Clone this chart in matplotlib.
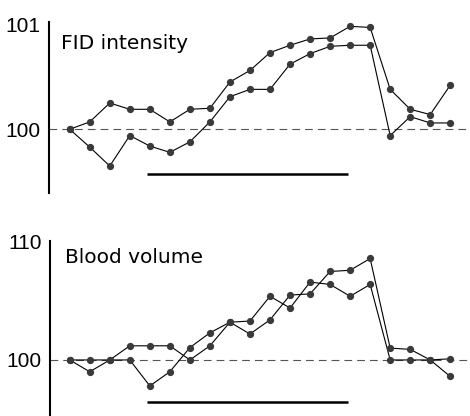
import numpy as np
import matplotlib
matplotlib.use("Agg")
import matplotlib.pyplot as plt

tiempo = np.arange(20)

fid_a = [100.0, 100.07, 100.25, 100.19, 100.19, 100.07, 100.19, 100.2, 100.45, 100.56,
         100.73, 100.8, 100.86, 100.87, 100.98, 100.97, 100.38, 100.19, 100.14, 100.42]
fid_b = [100.0, 99.83, 99.65, 99.94, 99.84, 99.78, 99.88, 100.07, 100.31, 100.38,
         100.38, 100.62, 100.72, 100.79, 100.8, 100.8, 99.94, 100.12, 100.06, 100.06]

blood_a = [100.0, 100.0, 100.0, 101.2, 101.2, 101.2, 100.0, 101.2, 103.2, 103.3,
           105.4, 104.4, 106.6, 106.4, 105.4, 106.4, 100.0, 100.0, 100.0, 100.1]
blood_b = [100.0, 99.0, 100.0, 100.0, 97.8, 99.0, 101.05, 102.3, 103.2, 102.2,
           103.4, 105.5, 105.6, 107.5, 107.6, 108.6, 101.0, 100.9, 100.0, 98.6]

# Periodo de estimulación (barra horizontal)
estimulo = [3.85, 13.9]

paneles = [
    {"titulo": "FID intensity", "a": fid_a, "b": fid_b, "ticks": [100, 101],
     "ylim": (99.231, 101.231), "spine": (99.39, 101.02), "barra": 99.575,
     "texto_y": 100.76, "texto_x": -0.43, "spine_x": -1.03},
    {"titulo": "Blood volume", "a": blood_a, "b": blood_b, "ticks": [100, 110],
     "ylim": (95.25, 112.71), "spine": (95.25, 110.1), "barra": 96.4,
     "texto_y": 108.19, "texto_x": -0.23, "spine_x": -0.98},
]

fig = plt.figure(figsize=(4.7, 4.16), dpi=100)
posiciones = [[0, 1 - 210 / 416, 1, 210 / 416], [0, 0, 1, 206 / 416]]

for p, pos in zip(paneles, posiciones):
    ax = fig.add_axes(pos)
    ax.set_xlim(-3.48, 19.985)
    ax.set_ylim(*p["ylim"])
    ax.patch.set_alpha(0)

    for s in ["top", "right", "bottom"]:
        ax.spines[s].set_visible(False)
    ax.spines["left"].set_position(("data", p["spine_x"]))
    ax.spines["left"].set_bounds(*p["spine"])
    ax.spines["left"].set_linewidth(1.5)
    ax.set_xticks([])
    ax.set_yticks(p["ticks"])
    ax.set_yticklabels([str(t) for t in p["ticks"]], family="Liberation Sans", fontsize=15)
    ax.tick_params(axis="y", length=0, pad=6)

    # línea base discontinua en 100
    ax.hlines(100, p["spine_x"], 19.985, colors="#555555", linewidth=0.8,
              linestyles=(0, (7, 4.5)))

    for serie in (p["a"], p["b"]):
        ax.plot(tiempo, serie, color="black", linewidth=0.8, marker="o",
                markersize=4.2, markerfacecolor="#3a3a3a", markeredgecolor="#3a3a3a")

    ax.hlines(p["barra"], estimulo[0], estimulo[1], colors="black", linewidth=1.8)

    ax.text(p["texto_x"], p["texto_y"], p["titulo"], fontsize=14.5,
            family="DejaVu Sans", ha="left", va="baseline")

fig.savefig("out.png", dpi=100)
